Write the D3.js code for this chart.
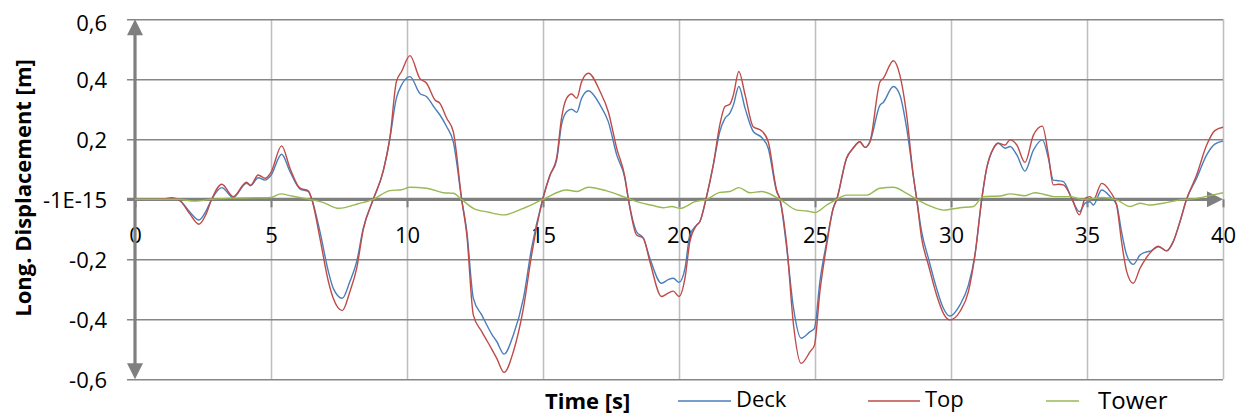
<!DOCTYPE html>
<html>
<head>
<meta charset="utf-8">
<script src="https://cdn.jsdelivr.net/npm/d3@7"></script>
<style>
  body { margin: 0; background: #fff; }
  text { font-family: "Open Sans", sans-serif; fill: #000; }
</style>
</head>
<body>
<div id="chart"></div>
<script>
// time stamps [s] shared by Deck and Top
const time = [0, 1.0, 1.35, 1.66, 2.0, 2.35, 2.6, 2.82, 3.19, 3.61, 4.1, 4.25, 4.53, 4.78, 5.0, 5.39, 5.7, 6.07, 6.37, 6.5,
  6.8, 7.11, 7.29, 7.62, 7.9, 8.15, 8.39, 8.76, 9.12, 9.37, 9.61, 9.8, 10.11, 10.47, 10.72, 11.03, 11.21, 11.46, 11.7, 12.01,
  12.2, 12.44, 12.75, 13.12, 13.3, 13.57, 13.91, 14.28, 14.58, 14.99, 15.26, 15.5, 15.68, 15.87, 16.05, 16.24, 16.42, 16.67, 17.1, 17.4,
  17.71, 18.01, 18.14, 18.44, 18.69, 18.93, 19.36, 19.6, 19.79, 20.0, 20.22, 20.4, 20.65, 20.77, 20.99, 21.26, 21.5, 21.69, 21.87, 22.0,
  22.2, 22.43, 22.73, 23.04, 23.28, 23.59, 23.71, 23.96, 24.21, 24.49, 24.82, 24.98, 25.18, 25.43, 25.67, 25.8, 26.16, 26.4, 26.65, 26.84,
  27.02, 27.39, 27.51, 27.88, 28.12, 28.37, 28.61, 28.74, 28.92, 29.17, 29.47, 29.72, 29.96, 30.33, 30.64, 30.88, 31.13, 31.31, 31.56, 31.74,
  31.99, 32.17, 32.42, 32.72, 33.03, 33.36, 33.58, 33.76, 33.95, 34.13, 34.44, 34.72, 34.93, 35.11, 35.23, 35.54, 35.85, 36.09, 36.27, 36.46,
  36.7, 36.95, 37.13, 37.38, 37.62, 37.93, 38.17, 38.42, 38.66, 39.03, 39.4, 39.7, 40];

const deck = [0, 0, 0.003, -0.005, -0.041, -0.069, -0.041, 0, 0.039, 0.006, 0.053, 0.045, 0.072, 0.064, 0.08, 0.15, 0.092, 0.034, 0.026, 0,
  -0.108, -0.241, -0.297, -0.33, -0.274, -0.208, -0.097, 0, 0.092, 0.203, 0.337, 0.381, 0.409, 0.353, 0.342, 0.303, 0.281, 0.242, 0.192, 0,
  -0.108, -0.33, -0.386, -0.45, -0.474, -0.516, -0.452, -0.33, -0.163, 0, 0.081, 0.13, 0.248, 0.292, 0.3, 0.29, 0.337, 0.362, 0.314, 0.259,
  0.148, 0.07, 0, -0.108, -0.13, -0.197, -0.28, -0.268, -0.263, -0.277, -0.23, -0.119, -0.086, -0.074, 0, 0.114, 0.226, 0.27, 0.287, 0.314,
  0.376, 0.303, 0.226, 0.206, 0.17, 0.026, 0, -0.163, -0.363, -0.463, -0.441, -0.43, -0.274, -0.141, -0.03, 0, 0.137, 0.17, 0.192, 0.173,
  0.192, 0.314, 0.323, 0.376, 0.348, 0.237, 0.081, 0, -0.108, -0.197, -0.297, -0.363, -0.389, -0.352, -0.286, -0.186, 0, 0.103, 0.17, 0.187,
  0.17, 0.176, 0.148, 0.094, 0.164, 0.198, 0.137, 0.064, 0.062, 0.059, 0.003, -0.041, -0.013, -0.008, -0.019, 0.031, 0.009, -0.019, -0.108, -0.186,
  -0.217, -0.186, -0.177, -0.171, -0.158, -0.172, -0.141, -0.074, 0, 0.07, 0.148, 0.184, 0.194];

const top_ = [0, 0, 0.005, -0.005, -0.047, -0.083, -0.052, 0, 0.05, 0.009, 0.057, 0.047, 0.081, 0.07, 0.09, 0.178, 0.103, 0.037, 0.028, 0,
  -0.13, -0.274, -0.33, -0.371, -0.308, -0.23, -0.102, 0, 0.092, 0.203, 0.392, 0.426, 0.479, 0.403, 0.387, 0.331, 0.32, 0.27, 0.226, 0,
  -0.12, -0.386, -0.441, -0.5, -0.53, -0.577, -0.508, -0.363, -0.186, 0, 0.081, 0.137, 0.27, 0.337, 0.351, 0.337, 0.392, 0.42, 0.359, 0.292,
  0.17, 0.075, 0, -0.119, -0.13, -0.208, -0.324, -0.313, -0.306, -0.324, -0.263, -0.141, -0.086, -0.074, 0, 0.114, 0.248, 0.309, 0.317, 0.348,
  0.426, 0.348, 0.242, 0.228, 0.192, 0.03, 0, -0.152, -0.419, -0.547, -0.508, -0.486, -0.308, -0.152, -0.03, 0, 0.137, 0.17, 0.192, 0.173,
  0.192, 0.392, 0.403, 0.462, 0.414, 0.281, 0.081, 0, -0.13, -0.219, -0.319, -0.38, -0.402, -0.374, -0.308, -0.186, 0, 0.103, 0.17, 0.187,
  0.181, 0.198, 0.181, 0.123, 0.214, 0.244, 0.148, 0.048, 0.05, 0.048, 0.003, -0.052, 0.003, 0.009, -0.002, 0.053, 0.026, -0.019, -0.141, -0.241,
  -0.28, -0.23, -0.202, -0.172, -0.156, -0.172, -0.141, -0.074, 0, 0.081, 0.181, 0.229, 0.24];

// tower has its own time stamps
const towerTime = [0, 1.6, 2.2, 2.8, 3.5, 4.5, 5.0, 5.35, 5.8, 6.4, 6.9, 7.5, 8.2, 8.76, 9.37, 9.8, 10.1, 10.72, 11.33, 11.7,
  12.0, 12.44, 13.0, 13.54, 14.28, 15.0, 15.87, 16.24, 16.67, 17.34, 17.95, 18.44, 19.0, 19.42, 19.73, 20.04, 20.59, 21.02, 21.5, 21.87,
  22.2, 22.6, 23.04, 23.71, 24.33, 24.7, 25.0, 25.43, 25.8, 26.16, 26.9, 27.39, 27.88, 28.37, 28.74, 29.2, 29.72, 30.33, 30.82, 31.18,
  31.8, 32.17, 32.72, 33.08, 33.4, 33.8, 34.4, 34.8, 35.3, 35.54, 36.09, 36.58, 36.95, 37.3, 37.8, 38.42, 39.03, 39.6, 40];
const tower = [0, 0, -0.006, 0, 0.004, 0.005, 0.006, 0.018, 0.01, 0, -0.01, -0.03, -0.015, 0, 0.029, 0.032, 0.04, 0.037, 0.022, 0.02,
  0, -0.03, -0.043, -0.052, -0.03, 0, 0.031, 0.026, 0.04, 0.028, 0.009, -0.008, -0.02, -0.028, -0.024, -0.03, -0.008, 0, 0.023, 0.026,
  0.039, 0.022, 0.026, 0, -0.036, -0.039, -0.044, -0.019, 0, 0.014, 0.014, 0.037, 0.04, 0.02, 0, -0.021, -0.036, -0.028, -0.024, 0.009,
  0.011, 0.018, 0.012, 0.022, 0.017, 0.009, 0.009, 0, 0.003, 0.006, -0.002, -0.024, -0.013, -0.019, -0.013, -0.002, 0.003, 0.014, 0.022];

const xTicks = [0, 5, 10, 15, 20, 25, 30, 35, 40];
const yTicks = [-0.6, -0.4, -0.2, 0, 0.2, 0.4, 0.6];
const yTickLabels = ["-0,6", "-0,4", "-0,2", "-1E-15", "0,2", "0,4", "0,6"];

const seriesNames = ["Deck", "Top", "Tower"];
const colors = ["#4a7ebb", "#be4b48", "#98b954"];

const W = 1245, H = 416;
const left = 135, right = 1223, topY = 19.3, bottom = 379.3;

const svg = d3.select("#chart").append("svg")
    .attr("width", W)
    .attr("height", H);

const x = d3.scaleLinear().domain([0, 40]).range([left, right]);
const y = d3.scaleLinear().domain([-0.6, 0.6]).range([bottom, topY]);

// vertical grid
svg.append("g")
    .attr("transform", "translate(0," + bottom + ")")
    .call(d3.axisBottom(x).tickValues(xTicks.slice(1)).tickSize(-(bottom - topY)).tickFormat(""))
    .call(g => g.select(".domain").remove())
    .call(g => g.selectAll("line").attr("stroke", "#bfbfbf").attr("stroke-width", 1.6));

// horizontal grid (runs a bit left of the axis like ticks)
svg.append("g")
    .attr("transform", "translate(127,0)")
    .call(d3.axisLeft(y).tickValues(yTicks.filter(d => d !== 0)).tickSize(-(right - 127)).tickFormat(""))
    .call(g => g.select(".domain").remove())
    .call(g => g.selectAll("line").attr("stroke", "#868686").attr("stroke-width", 1.6));

// y labels
svg.append("g")
    .attr("transform", "translate(" + left + ",0)")
    .call(d3.axisLeft(y).tickValues(yTicks).tickSize(0).tickPadding(28)
        .tickFormat(d => yTickLabels[yTicks.indexOf(d)]))
    .call(g => g.select(".domain").remove())
    .call(g => g.selectAll("text")
        .attr("font-family", "Open Sans")
        .attr("font-size", 22)
        .attr("dy", null)
        .attr("y", d => Math.max(0, 22.5 - y(d)) + 8));

// x axis ticks + labels under the zero line
const zeroY = y(0);
svg.append("g")
    .attr("transform", "translate(0," + zeroY + ")")
    .call(d3.axisBottom(x).tickValues(xTicks).tickSize(8).tickPadding(20))
    .call(g => g.select(".domain").remove())
    .call(g => g.selectAll("line").attr("stroke", "#7f7f7f").attr("stroke-width", 2))
    .call(g => g.selectAll("text")
        .attr("font-family", "Open Sans")
        .attr("font-size", 22)
        .attr("dy", null)
        .attr("y", 243 - zeroY));

// axis lines with arrow heads
const axisCol = "#7f7f7f";
svg.append("line")
    .attr("x1", 127).attr("x2", right - 12)
    .attr("y1", zeroY).attr("y2", zeroY)
    .attr("stroke", axisCol).attr("stroke-width", 3.2);
svg.append("path")
    .attr("d", `M${right},${zeroY}L${right - 16},${zeroY - 8}L${right - 16},${zeroY + 8}Z`)
    .attr("fill", axisCol);

svg.append("line")
    .attr("x1", x(0)).attr("x2", x(0))
    .attr("y1", topY + 12).attr("y2", bottom - 12)
    .attr("stroke", axisCol).attr("stroke-width", 3.2);
svg.append("path")
    .attr("d", `M${x(0)},${topY}L${x(0) - 8},${topY + 16}L${x(0) + 8},${topY + 16}Z`)
    .attr("fill", axisCol);
svg.append("path")
    .attr("d", `M${x(0)},${bottom}L${x(0) - 8},${bottom - 16}L${x(0) + 8},${bottom - 16}Z`)
    .attr("fill", axisCol);

// series
const line = d3.line()
    .x(d => x(d[0]))
    .y(d => y(d[1]))
    .curve(d3.curveMonotoneX);

const series = [
    d3.zip(time, deck),
    d3.zip(time, top_),
    d3.zip(towerTime, tower)
];

series.forEach(function(s, i) {
    svg.append("path")
        .datum(s)
        .attr("fill", "none")
        .attr("stroke", colors[i])
        .attr("stroke-width", 1.4)
        .attr("stroke-linejoin", "round")
        .attr("d", line);
});

// y title
svg.append("text")
    .attr("transform", "translate(31,188) rotate(-90)")
    .attr("text-anchor", "middle")
    .attr("font-size", 22)
    .attr("font-weight", "bold")
    .text("Long. Displacement [m]");

// x title + legend along the bottom
svg.append("text")
    .attr("x", 545).attr("y", 409)
    .attr("font-size", 22)
    .attr("font-weight", "bold")
    .text("Time [s]");

const legendItems = [
    {x1: 678, x2: 731, tx: 736, ty: 407, size: 22},
    {x1: 868, x2: 920, tx: 925, ty: 407, size: 22},
    {x1: 1046, x2: 1079, tx: 1098, ty: 409, size: 24}
];
legendItems.forEach(function(l, i) {
    svg.append("line")
        .attr("x1", l.x1).attr("x2", l.x2)
        .attr("y1", 401).attr("y2", 401)
        .attr("stroke", colors[i])
        .attr("stroke-width", 1.4);
    svg.append("text")
        .attr("x", l.tx).attr("y", l.ty)
        .attr("font-size", l.size)
        .text(seriesNames[i]);
});
</script>
</body>
</html>
